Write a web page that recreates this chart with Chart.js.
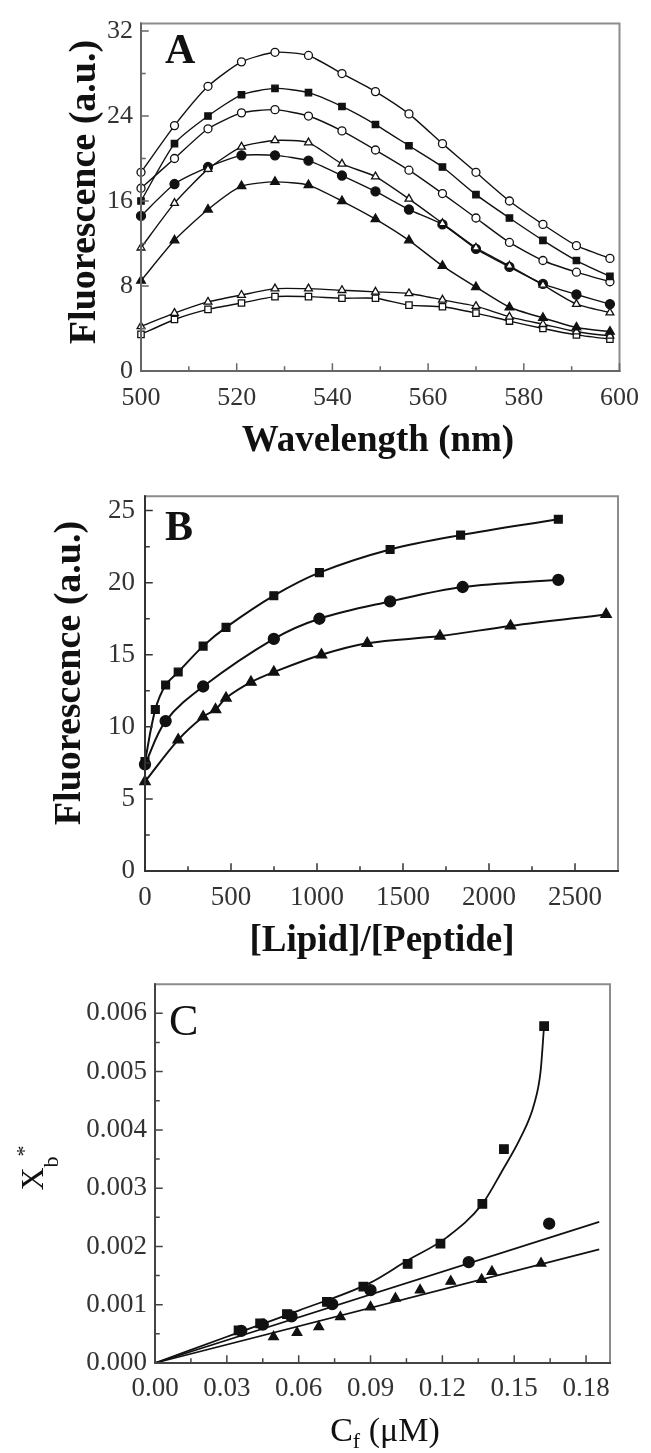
<!DOCTYPE html>
<html lang="en">
<head>
<meta charset="UTF-8">
<title>Fluorescence titration, panels A-C</title>
<script src="https://cdn.jsdelivr.net/npm/chart.js"></script>
<style>
  html, body { margin: 0; padding: 0; background: #fff; }
  body { width: 651px; height: 1453px; position: relative; overflow: hidden; }
  canvas { position: absolute; left: 0; }
</style>
</head>
<body>
<canvas id="chartA" width="651" height="470" style="top:0px"></canvas>
<canvas id="chartB" width="651" height="490" style="top:470px"></canvas>
<canvas id="chartC" width="651" height="493" style="top:960px"></canvas>
<script>
// ---- panel A: emission spectra ----
const wavelength = [500, 507, 514, 521, 528, 535, 542, 549, 556, 563, 570, 577, 584, 591, 598];
const aOpenTop      = [18.7, 23.1, 26.8, 29.1, 30.0, 29.7, 28.0, 26.3, 24.2, 21.4, 18.7, 16.0, 13.8, 11.8, 10.6];
const aSquare       = [16.0, 21.4, 24.0, 26.0, 26.6, 26.2, 24.9, 23.2, 21.2, 19.2, 16.6, 14.4, 12.3, 10.4, 8.9];
const aOpenCircle   = [17.2, 20.0, 22.8, 24.3, 24.6, 24.0, 22.6, 20.8, 18.9, 16.7, 14.4, 12.1, 10.4, 9.3, 8.4];
const aOpenTriangle = [11.6, 15.8, 19.0, 21.1, 21.7, 21.5, 19.5, 18.3, 16.2, 13.9, 11.6, 9.9, 8.1, 6.3, 5.5];
const aCircle       = [14.6, 17.6, 19.2, 20.3, 20.3, 19.8, 18.4, 16.9, 15.2, 13.8, 11.5, 9.8, 8.2, 7.2, 6.3];
const aTriangle     = [8.5, 12.3, 15.2, 17.4, 17.8, 17.5, 16.0, 14.3, 12.3, 9.9, 7.9, 6.0, 5.0, 4.1, 3.7];
const aLowTriangle  = [4.2, 5.45, 6.5, 7.15, 7.75, 7.75, 7.6, 7.45, 7.3, 6.7, 6.1, 5.1, 4.4, 3.7, 3.3];
const aLowSquare    = [3.45, 4.85, 5.8, 6.4, 7.0, 7.0, 6.85, 6.85, 6.2, 6.05, 5.45, 4.7, 4.0, 3.4, 3.0];
const aXTicks = [500, 520, 540, 560, 580, 600];
const aYTicks = [0, 8, 16, 24, 32];

// ---- panel B: fluorescence vs lipid/peptide ratio ----
const bSquareX   = [0, 60, 120, 193, 338, 471, 749, 1014, 1425, 1835, 2403];
const bSquareY   = [7.6, 11.2, 12.9, 13.8, 15.6, 16.9, 19.1, 20.7, 22.3, 23.3, 24.4];
const bCircleX   = [0, 120, 338, 749, 1014, 1425, 1847, 2403];
const bCircleY   = [7.4, 10.4, 12.8, 16.1, 17.5, 18.7, 19.7, 20.2];
const bTriangleX = [0, 193, 338, 410, 471, 616, 749, 1026, 1292, 1715, 2125, 2681];
const bTriangleY = [6.2, 9.1, 10.7, 11.2, 12.0, 13.1, 13.8, 15.0, 15.8, 16.3, 17.0, 17.8];
const bXTicks = [0, 500, 1000, 1500, 2000, 2500];
const bYTicks = [0, 5, 10, 15, 20, 25];

// ---- panel C: binding isotherms ----
const cSquareX   = [0.0349, 0.0439, 0.0551, 0.0718, 0.087, 0.1055, 0.1192, 0.1367, 0.1457, 0.1625];
const cSquareY   = [0.00056, 0.00068, 0.00084, 0.00105, 0.00131, 0.0017, 0.00205, 0.00273, 0.00367, 0.00578];
const cCircleX   = [0.036, 0.045, 0.057, 0.074, 0.090, 0.131, 0.1646];
const cCircleY   = [0.00055, 0.00066, 0.0008, 0.00101, 0.00125, 0.00173, 0.00239];
const cTriangleX = [0.0495, 0.0593, 0.0684, 0.0774, 0.09, 0.1004, 0.1107, 0.1235, 0.1364, 0.1407, 0.1612];
const cTriangleY = [0.00045, 0.00052, 0.00062, 0.00079, 0.00096, 0.00111, 0.00125, 0.0014, 0.00143, 0.00157, 0.00171];
// fitted curves
const cFitSquareX   = [0, 0.03, 0.06, 0.09, 0.105, 0.122, 0.1367, 0.145, 0.1527, 0.1583, 0.161, 0.1625];
const cFitSquareY   = [0, 0.00045, 0.0009, 0.00138, 0.00175, 0.00216, 0.00273, 0.0033, 0.00387, 0.00444, 0.005, 0.0058];
const cFitCircleX   = [0, 0.1855];
const cFitCircleY   = [0, 0.00242];
const cFitTriangleX = [0, 0.1855];
const cFitTriangleY = [0, 0.00195];
const cXTicks = [0, 0.03, 0.06, 0.09, 0.12, 0.15, 0.18];
const cYTicks = [0, 0.001, 0.002, 0.003, 0.004, 0.005, 0.006];

const SERIF = "'Liberation Serif', 'DejaVu Serif', serif";
Chart.defaults.font.family = SERIF;
Chart.defaults.color = '#333';

function pts(xs, ys) {
  return xs.map((x, i) => ({ x: x, y: ys[i] }));
}

function series(xs, ys, style, filled, r, lw, tension) {
  return {
    data: pts(xs, ys),
    showLine: lw > 0,
    borderColor: '#111',
    borderWidth: lw,
    tension: tension,
    pointStyle: style,
    pointRadius: r,
    pointBackgroundColor: filled ? '#111' : '#fff',
    pointBorderColor: '#111',
    pointBorderWidth: 1.3,
    clip: false
  };
}

function fitLine(xs, ys, lw, mono) {
  return {
    data: pts(xs, ys),
    showLine: true,
    borderColor: '#111',
    borderWidth: lw,
    pointRadius: 0,
    cubicInterpolationMode: mono ? 'monotone' : 'default',
    clip: false
  };
}

function minors(major, max) {
  const out = [];
  for (let i = 0; i < major.length; i++) {
    const step = i + 1 < major.length ? major[i + 1] - major[i] : major[i] - major[i - 1];
    const m = major[i] + step / 2;
    if (m < max - step * 0.1) out.push(m);
  }
  return out;
}

// box around the plot plus inward tick marks
const framePlugin = {
  id: 'frame',
  afterDatasetsDraw(chart, args, o) {
    const { ctx, chartArea: a, scales } = chart;
    const x = scales.x, y = scales.y;
    ctx.save();
    ctx.lineCap = 'square';
    ctx.strokeStyle = o.edge;
    ctx.lineWidth = 2;
    ctx.beginPath();
    ctx.moveTo(a.left, a.top);
    ctx.lineTo(a.right, a.top);
    ctx.lineTo(a.right, a.bottom);
    ctx.stroke();
    ctx.strokeStyle = o.axis;
    ctx.beginPath();
    ctx.moveTo(a.left, a.top);
    ctx.lineTo(a.left, a.bottom);
    ctx.lineTo(a.right, a.bottom);
    ctx.stroke();
    ctx.lineWidth = 1.5;
    ctx.beginPath();
    const xt = (vals, len) => vals.forEach(v => {
      const px = x.getPixelForValue(v);
      ctx.moveTo(px, a.bottom);
      ctx.lineTo(px, a.bottom - len);
    });
    const yt = (vals, len) => vals.forEach(v => {
      const py = y.getPixelForValue(v);
      ctx.moveTo(a.left, py);
      ctx.lineTo(a.left + len, py);
    });
    xt(o.xMajor, 7); xt(minors(o.xMajor, x.max), 4);
    yt(o.yMajor, 7); yt(minors(o.yMajor, y.max), 4);
    ctx.stroke();
    ctx.restore();
  }
};

// axis titles and panel letter, with sub/superscripts where needed
const textPlugin = {
  id: 'texts',
  afterDraw(chart, args, o) {
    const ctx = chart.ctx;
    o.items.forEach(it => {
      ctx.save();
      ctx.translate(it.x, it.y);
      if (it.rotate) ctx.rotate(-Math.PI / 2);
      ctx.fillStyle = '#111';
      ctx.textBaseline = 'alphabetic';
      let w = 0;
      it.parts.forEach(p => { ctx.font = p.font; w += ctx.measureText(p.text).width; });
      let cx = it.center ? -w / 2 : 0;
      it.parts.forEach(p => {
        ctx.font = p.font;
        ctx.fillText(p.text, cx, p.dy || 0);
        cx += ctx.measureText(p.text).width;
      });
      ctx.restore();
    });
  }
};

function axis(min, max, ticks, fmt, size, pad, fit) {
  return {
    type: 'linear',
    min: min,
    max: max,
    grid: { display: false, drawTicks: false },
    border: { display: false },
    afterBuildTicks: s => { s.ticks = ticks.map(v => ({ value: v })); },
    afterFit: fit,
    ticks: { callback: v => fmt(v), font: { size: size }, color: '#333', padding: pad, autoSkip: false, maxRotation: 0 }
  };
}

function makeChart(id, cfg) {
  return new Chart(document.getElementById(id), {
    type: 'scatter',
    data: { datasets: cfg.datasets },
    options: {
      responsive: false,
      animation: false,
      devicePixelRatio: 1,
      layout: { padding: cfg.padding },
      scales: { x: cfg.x, y: cfg.y },
      plugins: {
        legend: { display: false },
        tooltip: { enabled: false },
        frame: cfg.frame,
        texts: { items: cfg.texts }
      }
    },
    plugins: [framePlugin, textPlugin]
  });
}

const bold = s => 'bold ' + s + 'px ' + SERIF;
const reg = s => s + 'px ' + SERIF;

// Panel A
makeChart('chartA', {
  padding: { top: 18, right: 26, left: 0, bottom: 0 },
  datasets: [
    series(wavelength, aOpenTop, 'circle', false, 4, 1.4, 0.2),
    series(wavelength, aSquare, 'rect', true, 4.5, 1.4, 0.2),
    series(wavelength, aOpenCircle, 'circle', false, 4, 1.4, 0.2),
    series(wavelength, aOpenTriangle, 'triangle', false, 4.5, 1.4, 0.2),
    series(wavelength, aCircle, 'circle', true, 4.5, 1.4, 0.2),
    series(wavelength, aTriangle, 'triangle', true, 5, 1.4, 0.2),
    series(wavelength, aLowTriangle, 'triangle', false, 4.5, 1.4, 0.2),
    series(wavelength, aLowSquare, 'rect', false, 4.5, 1.4, 0.2)
  ],
  x: axis(500, 600, aXTicks, v => String(v), 26, 12, s => { s.height = 470 - 371; }),
  y: axis(0, 32.7, aYTicks, v => String(v), 26, 8, s => { s.width = 141; }),
  frame: { xMajor: aXTicks, yMajor: aYTicks, edge: '#8c8c8c', axis: '#666' },
  texts: [
    { x: 165, y: 63, parts: [{ text: 'A', font: bold(42) }] },
    { x: 378, y: 451, center: true, parts: [{ text: 'Wavelength (nm)', font: bold(37) }] },
    { x: 95, y: 192, center: true, rotate: true, parts: [{ text: 'Fluorescence (a.u.)', font: bold(38) }] }
  ]
});

// Panel B
makeChart('chartB', {
  padding: { top: 23, right: 33, left: 0, bottom: 0 },
  datasets: [
    series(bSquareX, bSquareY, 'rect', true, 5.5, 2, 0.35),
    series(bCircleX, bCircleY, 'circle', true, 5.5, 2, 0.35),
    series(bTriangleX, bTriangleY, 'triangle', true, 6, 2, 0.35)
  ],
  x: axis(0, 2750, bXTicks, v => String(v), 27, 11, s => { s.height = 490 - 401; }),
  y: axis(0, 26, bYTicks, v => String(v), 27, 10, s => { s.width = 145; }),
  frame: { xMajor: bXTicks, yMajor: bYTicks, edge: '#8c8c8c', axis: '#333' },
  texts: [
    { x: 165, y: 70, parts: [{ text: 'B', font: bold(42) }] },
    { x: 382, y: 481, center: true, parts: [{ text: '[Lipid]/[Peptide]', font: bold(37) }] },
    { x: 80, y: 203, center: true, rotate: true, parts: [{ text: 'Fluorescence (a.u.)', font: bold(38) }] }
  ]
});

// Panel C
makeChart('chartC', {
  padding: { top: 22, right: 41, left: 0, bottom: 0 },
  datasets: [
    series(cSquareX, cSquareY, 'rect', true, 6, 0, 0),
    series(cCircleX, cCircleY, 'circle', true, 5.5, 0, 0),
    series(cTriangleX, cTriangleY, 'triangle', true, 5.5, 0, 0),
    fitLine(cFitSquareX, cFitSquareY, 1.8, true),
    fitLine(cFitCircleX, cFitCircleY, 1.8, false),
    fitLine(cFitTriangleX, cFitTriangleY, 1.8, false)
  ],
  x: axis(0, 0.19, cXTicks, v => v.toFixed(2), 27, 10, s => { s.height = 493 - 403; }),
  y: axis(0, 0.0065, cYTicks, v => v.toFixed(3), 27, 8, s => { s.width = 155; }),
  frame: { xMajor: cXTicks, yMajor: cYTicks, edge: '#8c8c8c', axis: '#444' },
  texts: [
    { x: 169, y: 75, parts: [{ text: 'C', font: reg(44) }] },
    { x: 385, y: 481, center: true, parts: [
      { text: 'C', font: reg(34) },
      { text: 'f', font: reg(22), dy: 7 },
      { text: ' (\u03bcM)', font: reg(34) }
    ] },
    { x: 43, y: 208, center: true, rotate: true, parts: [
      { text: 'X', font: reg(32) },
      { text: 'b', font: reg(22), dy: 15 },
      { text: '*', font: reg(22), dy: -12 }
    ] }
  ]
});
</script>
</body>
</html>
